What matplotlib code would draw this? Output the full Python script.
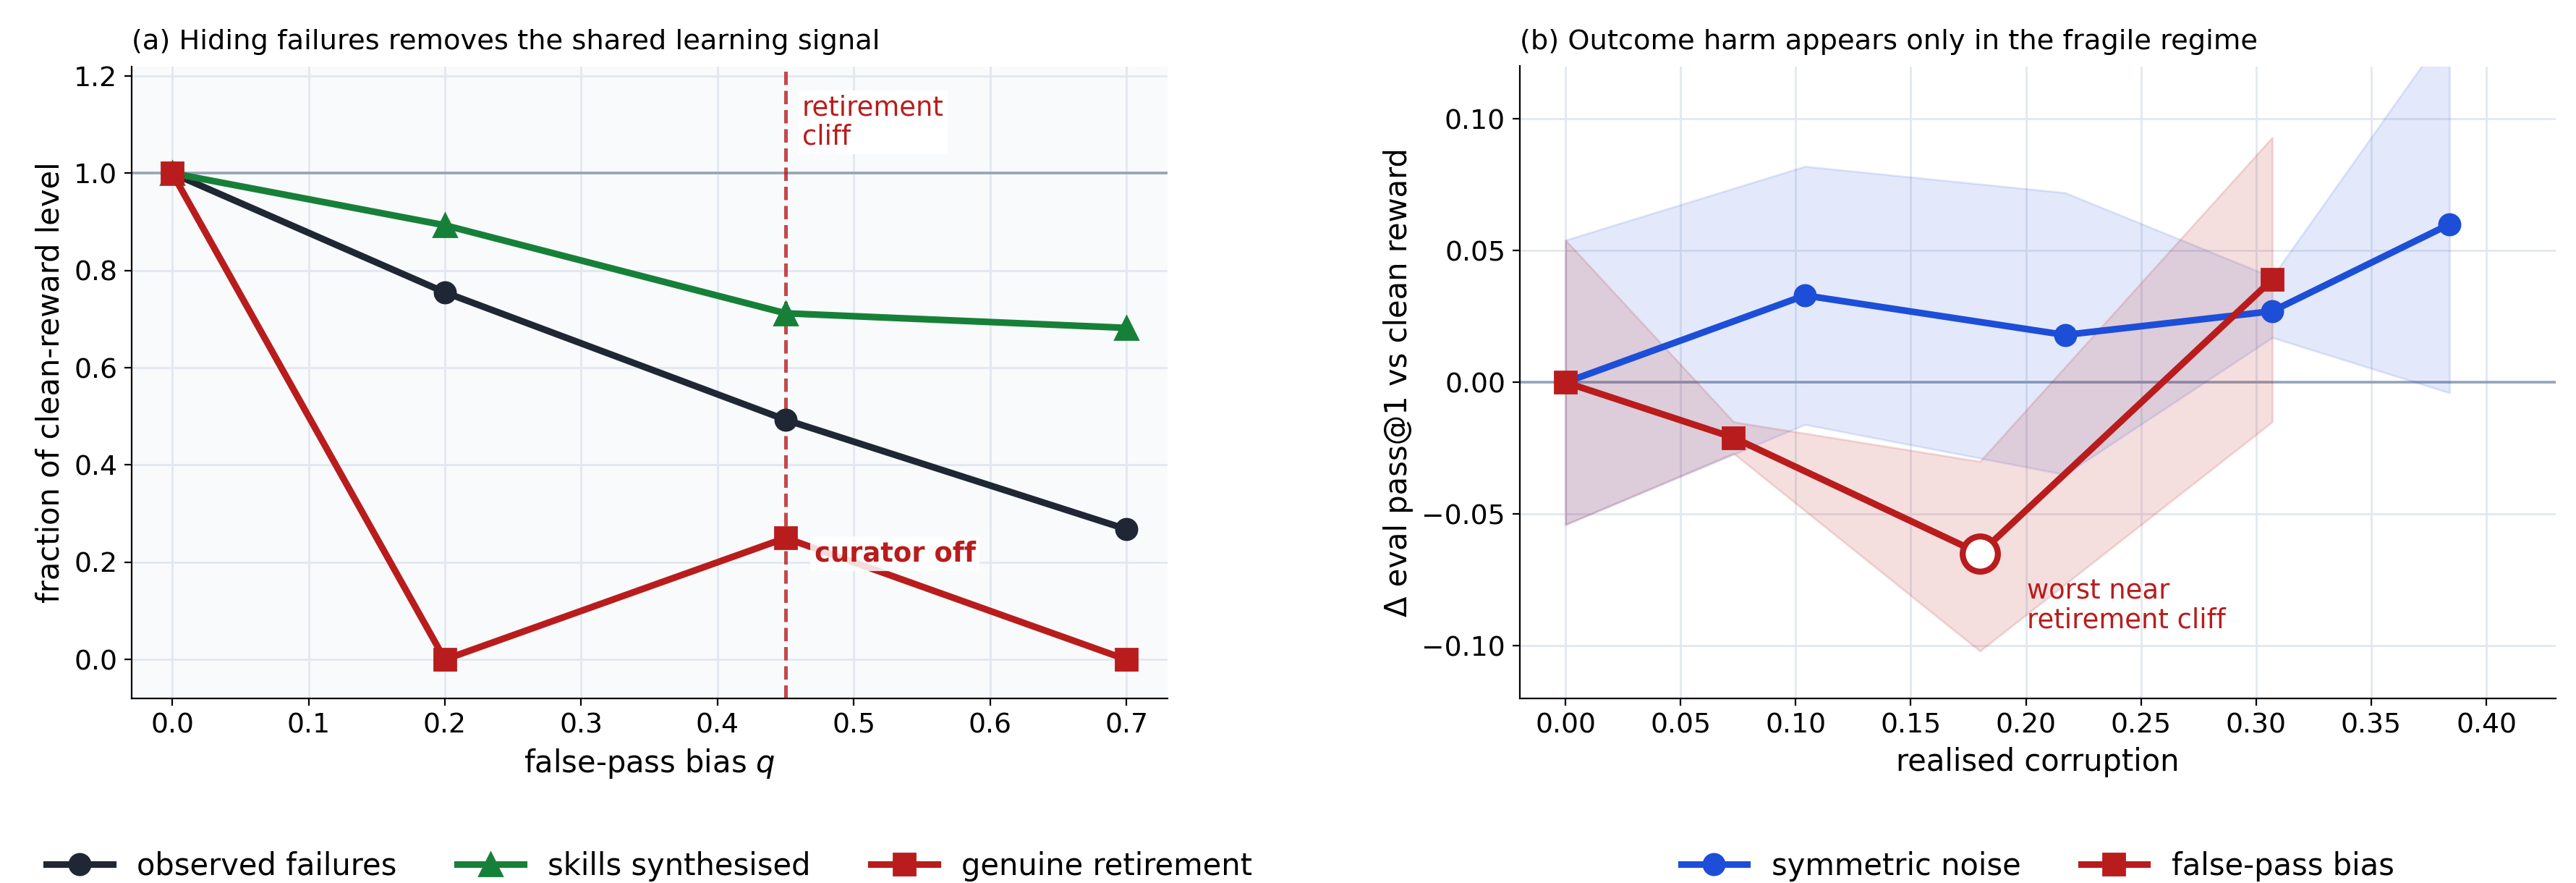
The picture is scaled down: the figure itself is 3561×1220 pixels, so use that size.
import numpy as np
import matplotlib
matplotlib.use("Agg")
import matplotlib.pyplot as plt

# --- panel (a) data ---
q_bias = [0.0, 0.2, 0.45, 0.7]
observed_failures = [1.0, 0.755, 0.493, 0.268]
skills_synth = [1.0, 0.893, 0.712, 0.682]
genuine_retire = [1.0, 0.0, 0.25, 0.0]
cliff_q = 0.45

# --- panel (b) data ---
sym_x = [0.0, 0.104, 0.217, 0.307, 0.384]
sym_y = [0.0, 0.033, 0.018, 0.027, 0.060]
sym_lo = [-0.054, -0.016, -0.035, 0.017, -0.004]
sym_hi = [0.054, 0.082, 0.072, 0.040, 0.135]

fp_x = [0.0, 0.073, 0.180, 0.307]
fp_y = [0.0, -0.021, -0.065, 0.039]
fp_lo = [-0.054, -0.027, -0.102, -0.015]
fp_hi = [0.054, -0.015, -0.030, 0.093]

DARK = "#1e2733"
GREEN = "#178038"
RED = "#b91c1c"
BLUE = "#1d4ed8"
GRID = "#e2e8f0"
REF = "#94a3b8"

TICK_FS = 13.6
LABEL_FS = 15
TITLE_FS = 13.8
NOTE_FS = 13.3
LW = 3.3
MS = 10.5

plt.rcParams["font.family"] = ["DejaVu Sans"]
fig, (ax1, ax2) = plt.subplots(1, 2, figsize=(17.805, 6.1), dpi=200)
fig.subplots_adjust(left=0.051, right=0.992, bottom=0.209, top=0.925, wspace=0.34)
legend_y = (0.019 - 0.209) / (0.925 - 0.209)

# ---------- panel (a) ----------
ax1.set_facecolor("#f8fafc")
ax1.grid(True, color=GRID, linewidth=1.0)
ax1.set_axisbelow(True)
ax1.axhline(1.0, color=REF, linewidth=1.3, zorder=1)
ax1.axvline(cliff_q, color=RED, linestyle="--", linewidth=1.8, alpha=0.8, zorder=2)
ax1.plot(q_bias, observed_failures, color=DARK, lw=LW, marker="o", ms=MS, label="observed failures", zorder=3)
ax1.plot(q_bias, skills_synth, color=GREEN, lw=LW, marker="^", ms=MS + 1, label="skills synthesised", zorder=3)
ax1.plot(q_bias, genuine_retire, color=RED, lw=LW, marker="s", ms=MS, label="genuine retirement", zorder=4)
ax1.text(cliff_q + 0.012, 1.105, "retirement\ncliff", color=RED, fontsize=NOTE_FS, va="center", ha="left",
         linespacing=1.1, bbox=dict(facecolor="white", edgecolor="none", pad=2), zorder=5)
ax1.text(cliff_q + 0.021, 0.217, "curator off", color=RED, fontsize=NOTE_FS, fontweight="bold",
         va="center", ha="left", bbox=dict(facecolor="white", edgecolor="none", alpha=0.85, pad=2), zorder=5)
ax1.set_xlim(-0.03, 0.73)
ax1.set_ylim(-0.08, 1.22)
ax1.set_xlabel("false-pass bias $q$", fontsize=LABEL_FS)
ax1.set_ylabel("fraction of clean-reward level", fontsize=LABEL_FS)
ax1.set_title("(a) Hiding failures removes the shared learning signal", fontsize=TITLE_FS, loc="left", pad=8.5)
ax1.tick_params(labelsize=TICK_FS)
for s in ["top", "right"]:
    ax1.spines[s].set_visible(False)
ax1.legend(loc="center", bbox_to_anchor=(0.5, legend_y), ncol=3, frameon=False, fontsize=LABEL_FS,
           handlelength=2.2, columnspacing=2.0)

# ---------- panel (b) ----------
ax2.grid(True, color=GRID, linewidth=1.0)
ax2.set_axisbelow(True)
ax2.axhline(0.0, color=REF, linewidth=1.3, zorder=1)
ax2.fill_between(sym_x, sym_lo, sym_hi, color=BLUE, alpha=0.12, linewidth=1.0, edgecolor=BLUE, zorder=2)
ax2.fill_between(fp_x, fp_lo, fp_hi, color=RED, alpha=0.14, linewidth=1.0, edgecolor=RED, zorder=2)
ax2.plot(sym_x, sym_y, color=BLUE, lw=LW, marker="o", ms=MS, label="symmetric noise", zorder=3)
ax2.plot(fp_x, fp_y, color=RED, lw=LW, marker="s", ms=MS, label="false-pass bias", zorder=4)
worst = int(np.argmin(fp_y))
ax2.plot([fp_x[worst]], [fp_y[worst]], marker="o", ms=17.5, mfc="white", mec=RED, mew=3,
         linestyle="none", zorder=5)
ax2.text(0.2005, -0.0848, "worst near\nretirement cliff", color=RED, fontsize=NOTE_FS, va="center",
         ha="left", linespacing=1.1, zorder=5)
ax2.set_xlim(-0.02, 0.43)
ax2.set_ylim(-0.12, 0.12)
ax2.set_xticks(np.arange(0, 0.41, 0.05))
ax2.set_yticks([-0.10, -0.05, 0.0, 0.05, 0.10])
ax2.set_xlabel("realised corruption", fontsize=LABEL_FS)
ax2.set_ylabel("Δ eval pass@1 vs clean reward", fontsize=LABEL_FS)
ax2.set_title("(b) Outcome harm appears only in the fragile regime", fontsize=TITLE_FS, loc="left", pad=8.5)
ax2.tick_params(labelsize=TICK_FS)
for s in ["top", "right"]:
    ax2.spines[s].set_visible(False)
ax2.legend(loc="center", bbox_to_anchor=(0.5, legend_y), ncol=2, frameon=False, fontsize=LABEL_FS,
           handlelength=2.2, columnspacing=2.0)

fig.savefig("out.png", dpi=200)
